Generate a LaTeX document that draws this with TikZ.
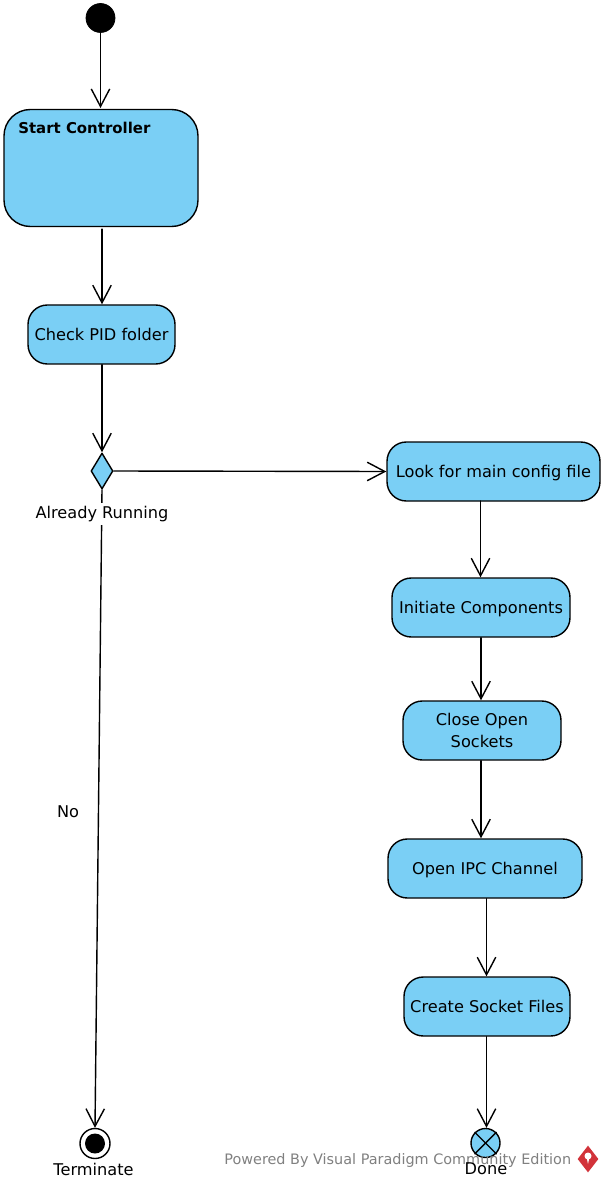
\documentclass[tikz,border=0pt]{standalone}
\usepackage{fontspec}
\setmainfont{DejaVu Sans}
\usetikzlibrary{positioning,calc,arrows.meta,shapes.geometric}
\definecolor{myfill}{HTML}{7ACFF5}
\definecolor{mylogo}{HTML}{D2333A}
\tikzset{
	action/.style={draw=black,fill=myfill,line width=0.8pt,rounded corners=11pt,align=center,font=\fontsize{9.2}{12}\selectfont,inner sep=0pt},
	oneline/.style={text height=7pt,text depth=0pt},
	flow/.style={-{Straight Barb[length=10pt,width=10.5pt,line width=0.8pt]},line width=0.8pt},
	caption/.style={font=\fontsize{9.2}{11}\selectfont,inner sep=1pt}
}
\begin{document}
\begin{tikzpicture}[x=0.02cm,y=-0.02cm,line cap=round,line join=round]
	% page
	\useasboundingbox (0,0) rectangle (606,1185);
	
	% start and decision
	\node[circle,fill=black,draw=black,minimum size=29*0.02cm,inner sep=0pt] (init) at (100.5,18) {};
	\node[diamond,draw=black,fill=myfill,line width=0.8pt,minimum width=22*0.02cm,minimum height=36*0.02cm,inner sep=0pt,aspect=0.6] (choice) at (102,471) {};
	
	% left actions
	\node[action,rounded corners=15pt,minimum width=194*0.02cm,minimum height=117*0.02cm] (startctl) at (101,168) {};
	\node[font=\fontsize{8.5}{11}\selectfont\bfseries,anchor=west,inner sep=0pt] (startlbl) at (18,128) {Start Controller};
	\node[action,oneline,minimum width=147*0.02cm,minimum height=59*0.02cm] (pid) at (101.5,334.5) {Check PID folder};
	
	% right actions
	\node[action,oneline,minimum width=213*0.02cm,minimum height=59*0.02cm] (look) at (493.5,471.5) {Look for main config file};
	\node[action,oneline,minimum width=178*0.02cm,minimum height=59*0.02cm] (initiate) at (481,607.5) {Initiate Components};
	\node[action,minimum width=158*0.02cm,minimum height=59*0.02cm] (sockets) at (482,730.5) {Close Open\\Sockets};
	\node[action,oneline,minimum width=194*0.02cm,minimum height=59*0.02cm] (ipc) at (485,868.5) {Open IPC Channel};
	\node[action,oneline,minimum width=166*0.02cm,minimum height=59*0.02cm] (files) at (487,1006.5) {Create Socket Files};
	
	% ends
	\node[circle,draw=black,fill=white,line width=0.8pt,minimum size=30*0.02cm,inner sep=0pt] (term) at (95,1143.5) {};
	\fill[black] (term.center) circle (10*0.02cm);
	\node[circle,draw=black,fill=myfill,line width=0.8pt,minimum size=29*0.02cm,inner sep=0pt] (done) at (485.5,1143) {};
	\draw[line width=0.8pt] (done.north west) -- (done.south east);
	\draw[line width=0.8pt] (done.north east) -- (done.south west);
	
	% arrows
	\draw[flow] (init) -- (100.5,108);
	\draw[flow,shorten <=1.5pt] (102,226.5) -- (pid.north -| 102,0);
	\draw[flow] (pid.south -| 102,0) -- (choice.north);
	\draw[flow] (choice.east) -- (look.west);
	\draw[flow] (480.5,501) -- (initiate.north -| 480.5,0);
	\draw[flow] (initiate.south -| 481,0) -- (sockets.north -| 481,0);
	\draw[flow] (sockets.south -| 481,0) -- (ipc.north -| 481,0);
	\draw[flow] (ipc.south -| 486.5,0) -- (files.north -| 486.5,0);
	\draw[flow] (files.south -| 486.5,0) -- (done.north -| 486.5,0);
	\draw[flow] (choice.south) -- (term.north);
	
	% labels
	\node[caption,fill=white,inner ysep=2pt] (running) at (102,514) {Already Running};
	\node[caption] (nolbl) at (68,812) {No};
	\node[caption] (termlbl) at (93.5,1169) {Terminate};
	\node[caption,font=\fontsize{8.2}{10}\selectfont,text=gray,anchor=west,inner sep=0pt] (powered) at (224,1161) {Powered By Visual Paradigm Community Edition};
	\node[caption] (donelbl) at (486,1169) {Done};
	
	% logo
	\node[diamond,fill=mylogo,minimum width=21*0.02cm,minimum height=27*0.02cm,inner sep=0pt] (logo) at (588,1159) {};
	\fill[white] (588,1156) circle (3.5*0.02cm);
	\fill[white] (586.5,1157) -- (589.5,1157) -- (588,1164) -- cycle;
\end{tikzpicture}
\end{document}
